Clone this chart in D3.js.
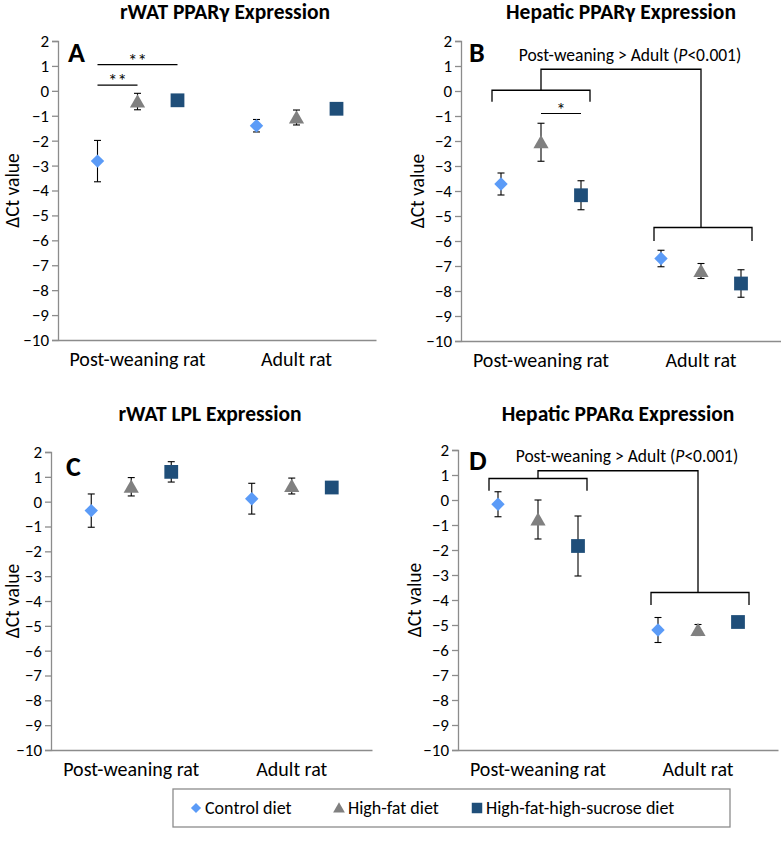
<!DOCTYPE html>
<html>
<head>
<meta charset="utf-8">
<script src="https://cdn.jsdelivr.net/npm/d3@7"></script>
<style>
  html, body { margin: 0; padding: 0; background: #fff; }
  svg { display: block; font-family: Carlito, Lato, "Liberation Sans", sans-serif; }
</style>
</head>
<body>
<svg id="chart" width="781" height="842"></svg>
<script>
// ---------- data ----------
const groups = ["Post-weaning rat", "Adult rat"];
const diets = ["Control diet", "High-fat diet", "High-fat-high-sucrose diet"];
const yTickValues = [2, 1, 0, -1, -2, -3, -4, -5, -6, -7, -8, -9, -10];

const titles = ["rWAT PPARγ Expression", "Hepatic PPARγ Expression", "rWAT LPL Expression", "Hepatic PPARα Expression"];
const letters = ["A", "B", "C", "D"];

// means [post-weaning, adult] per diet
const aControl = [-2.82, -1.40], aHF = [-0.43, -1.07], aHFHS = [-0.38, -0.72];
const aControlErr = [0.83, 0.25], aHFErr = [0.33, 0.30], aHFHSErr = [0.12, 0.10];

const bControl = [-3.72, -6.70], bHF = [-2.05, -7.20], bHFHS = [-4.17, -7.70];
const bControlErr = [0.44, 0.33], bHFErr = [0.76, 0.30], bHFHSErr = [0.58, 0.55];

const cControl = [-0.36, 0.12], cHF = [0.60, 0.63], cHFHS = [1.20, 0.57];
const cControlErr = [0.67, 0.62], cHFErr = [0.37, 0.32], cHFHSErr = [0.41, 0.05];

const dControl = [-0.17, -5.20], dHF = [-0.78, -5.20], dHFHS = [-1.84, -4.88];
const dControlErr = [0.50, 0.50], dHFErr = [0.78, 0.22], dHFHSErr = [1.20, 0.10];

// significance bars: group index, from-diet, to-diet, y value, label
const aSig = [
  { group: 0, from: 0, to: 2, y: 1.05, label: "**" },
  { group: 0, from: 0, to: 1, y: 0.23, label: "**" }
];
const bSig = [ { group: 0, from: 1, to: 2, y: -0.9, label: "*" } ];
const cSig = [];
const dSig = [];

// group comparison brackets: [level, tip] for post-weaning and adult, connector level, text level
const bBracket = { pw: [0.03, -0.43], ad: [-5.46, -6.0], top: 0.87, text: 1.45 };
const dBracket = { pw: [0.86, 0.37], ad: [-3.70, -4.20], top: 1.17, text: 1.75 };

// ---------- styles ----------
const colors = ["#5b9bf7", "#808080", "#1f4e79"];
const axisColor = "#8c8c8c";

const svg = d3.select("#chart");

const panels = [
  { x0: 58, x1: 376, yTop: 41, yBot: 340, titleX: 225, titleY: 19, labelX: 12, letterX: 68, letterY: 62,
    means: [aControl, aHF, aHFHS], errs: [aControlErr, aHFErr, aHFHSErr], sig: aSig, bracket: null },
  { x0: 461, x1: 781, yTop: 41, yBot: 341, titleX: 621, titleY: 19, labelX: 417, letterX: 469, letterY: 62,
    means: [bControl, bHF, bHFHS], errs: [bControlErr, bHFErr, bHFHSErr], sig: bSig, bracket: bBracket },
  { x0: 51, x1: 372, yTop: 452, yBot: 750, titleX: 210, titleY: 421, labelX: 12, letterX: 66, letterY: 476,
    means: [cControl, cHF, cHFHS], errs: [cControlErr, cHFErr, cHFHSErr], sig: cSig, bracket: null },
  { x0: 458, x1: 778, yTop: 450, yBot: 750, titleX: 618, titleY: 421, labelX: 414, letterX: 469, letterY: 470,
    means: [dControl, dHF, dHFHS], errs: [dControlErr, dHFErr, dHFHSErr], sig: dSig, bracket: dBracket }
];

const symbolFor = [
  d3.symbol().type(d3.symbolDiamond2).size(115),
  d3.symbol().type(d3.symbolTriangle).size(100),
  d3.symbol().type(d3.symbolSquare).size(190)
];

panels.forEach((p, pi) => {
  const g = svg.append("g");
  const y = d3.scaleLinear().domain([-10, 2]).range([p.yBot, p.yTop]);
  const x = d3.scaleBand().domain(groups).range([p.x0, p.x1]).padding(0);
  const dodge = d3.scalePoint().domain(diets).range([-40, 40]);
  const cx = (gi, di) => x(groups[gi]) + x.bandwidth() / 2 + dodge(diets[di]);

  // title
  g.append("text").attr("x", p.titleX).attr("y", p.titleY)
    .attr("text-anchor", "middle").attr("font-weight", "bold").attr("font-size", 21.5)
    .text(titles[pi]);

  // y axis
  const yAxis = d3.axisLeft(y).tickValues(yTickValues).tickSize(6).tickPadding(3).tickFormat(d3.format("d"));
  const ya = g.append("g").attr("transform", `translate(${p.x0},0)`).call(yAxis);
  ya.attr("font-family", null).attr("font-size", 17);
  ya.select(".domain").attr("stroke", axisColor).attr("stroke-width", 1.3);
  ya.selectAll(".tick line").attr("stroke", axisColor).attr("stroke-width", 1.3);
  ya.selectAll(".tick text").attr("fill", "#000");

  // x axis
  const xAxis = d3.axisBottom(x).tickSize(0).tickPadding(12);
  const xa = g.append("g").attr("transform", `translate(0,${p.yBot})`).call(xAxis);
  xa.attr("font-family", null).attr("font-size", 20);
  xa.select(".domain").attr("stroke", axisColor).attr("stroke-width", 1.3);
  xa.selectAll(".tick text").attr("fill", "#000");

  // y label
  g.append("text")
    .attr("transform", `translate(${p.labelX},${(p.yTop + p.yBot) / 2}) rotate(-90)`)
    .attr("text-anchor", "middle").attr("dominant-baseline", "central").attr("font-size", 19.5)
    .text("ΔCt value");

  // panel letter
  g.append("text").attr("x", p.letterX).attr("y", p.letterY)
    .attr("font-weight", "bold").attr("font-size", 28).text(letters[pi]);

  // points
  const pts = [];
  p.means.forEach((arr, di) => arr.forEach((v, gi) => pts.push({ gi, di, v, e: p.errs[di][gi] })));

  const eb = g.append("g").attr("stroke", "#000").attr("stroke-width", 1.1);
  pts.forEach(d => {
    const xx = cx(d.gi, d.di);
    eb.append("line").attr("x1", xx).attr("x2", xx).attr("y1", y(d.v + d.e)).attr("y2", y(d.v - d.e));
    eb.append("line").attr("x1", xx - 3.5).attr("x2", xx + 3.5).attr("y1", y(d.v + d.e)).attr("y2", y(d.v + d.e));
    eb.append("line").attr("x1", xx - 3.5).attr("x2", xx + 3.5).attr("y1", y(d.v - d.e)).attr("y2", y(d.v - d.e));
  });

  g.append("g").selectAll("path").data(pts).join("path")
    .attr("d", d => symbolFor[d.di]())
    .attr("transform", d => `translate(${cx(d.gi, d.di)},${y(d.v) + (d.di === 1 ? 1.5 : 0)})`)
    .attr("fill", d => colors[d.di]);

  // significance bars
  p.sig.forEach(s => {
    const xa1 = cx(s.group, s.from), xa2 = cx(s.group, s.to);
    g.append("line").attr("x1", xa1).attr("x2", xa2).attr("y1", y(s.y)).attr("y2", y(s.y))
      .attr("stroke", "#000").attr("stroke-width", 1.2);
    g.append("text").attr("x", (xa1 + xa2) / 2).attr("y", y(s.y) + 2)
      .attr("text-anchor", "middle").attr("font-size", 19).text(s.label);
  });

  // group brackets
  if (p.bracket) {
    const b = p.bracket;
    const pwL = cx(0, 0) - 9, pwR = cx(0, 2) + 9;
    const adL = cx(1, 0) - 7, adR = cx(1, 2) + 11;
    const gc0 = x(groups[0]) + x.bandwidth() / 2, gc1 = x(groups[1]) + x.bandwidth() / 2;
    const path = d3.path();
    path.moveTo(pwL, y(b.pw[1])); path.lineTo(pwL, y(b.pw[0])); path.lineTo(pwR, y(b.pw[0])); path.lineTo(pwR, y(b.pw[1]));
    path.moveTo(adL, y(b.ad[1])); path.lineTo(adL, y(b.ad[0])); path.lineTo(adR, y(b.ad[0])); path.lineTo(adR, y(b.ad[1]));
    path.moveTo(gc0, y(b.pw[0])); path.lineTo(gc0, y(b.top)); path.lineTo(gc1, y(b.top)); path.lineTo(gc1, y(b.ad[0]));
    g.append("path").attr("d", path.toString()).attr("fill", "none").attr("stroke", "#000").attr("stroke-width", 1.3);

    const t = g.append("text").attr("x", (gc0 + gc1) / 2 + 9).attr("y", y(b.text) + 6)
      .attr("text-anchor", "middle").attr("font-size", 17.5);
    t.append("tspan").text("Post-weaning > Adult (");
    t.append("tspan").attr("font-style", "italic").text("P");
    t.append("tspan").text("<0.001)");
  }
});

// ---------- legend ----------
const lg = svg.append("g");
lg.append("rect").attr("x", 173).attr("y", 789).attr("width", 557).attr("height", 38)
  .attr("fill", "#fff").attr("stroke", "#8c8c8c").attr("stroke-width", 1.3);
const legendX = [196, 339, 477];
const legendSym = [
  d3.symbol().type(d3.symbolDiamond2).size(65),
  d3.symbol().type(d3.symbolTriangle).size(60),
  d3.symbol().type(d3.symbolSquare).size(110)
];
diets.forEach((d, i) => {
  lg.append("path").attr("d", legendSym[i]()).attr("fill", colors[i])
    .attr("transform", `translate(${legendX[i]},${808 + (i === 1 ? 1 : 0)})`);
  lg.append("text").attr("x", legendX[i] + 9).attr("y", 808).attr("dominant-baseline", "central")
    .attr("font-size", 18).text(d);
});
</script>
</body>
</html>
